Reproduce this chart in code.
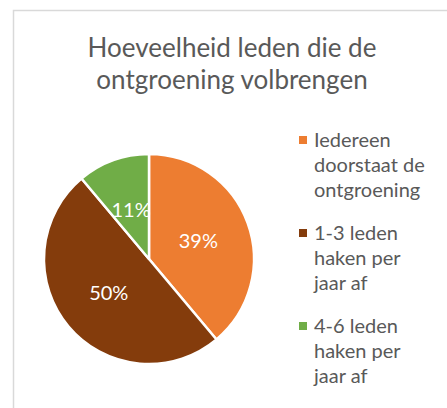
<!DOCTYPE html>
<html>
<head>
<meta charset="utf-8">
<script src="https://cdn.jsdelivr.net/npm/d3@7"></script>
<style>
	body { margin: 0; background: #fff; }
	svg { display: block; font-family: Lato, 'Open Sans', sans-serif; }
</style>
</head>
<body>
<div id="chart"></div>
<script>
var title = ['Hoeveelheid leden die de', 'ontgroening volbrengen'];
var categories = ['Iedereen doorstaat de ontgroening', '1-3 leden haken per jaar af', '4-6 leden haken per jaar af'];
var legendlines = [['Iedereen', 'doorstaat de', 'ontgroening'], ['1-3 leden', 'haken per', 'jaar af'], ['4-6 leden', 'haken per', 'jaar af']];
var values = [7, 9, 2];
var colors = ['#ED7D31', '#843C0C', '#70AD47'];

var width = 447;
var height = 408;
var cx = 149;
var cy = 259;
var radius = 105;
var textcolor = '#595959';

var svg = d3
	.select('#chart')
	.append('svg')
	.attr('width', width)
	.attr('height', height);

// CHART BORDER (only left and top visible in the crop)
svg
	.append('rect')
	.attr('x', 13.5)
	.attr('y', 10.5)
	.attr('width', width + 20)
	.attr('height', height + 20)
	.attr('fill', 'none')
	.attr('stroke', '#d9d9d9')
	.attr('stroke-width', 1.5);

// TITLE
svg
	.append('g')
	.selectAll('text')
	.data(title)
	.enter()
	.append('text')
	.attr('x', 232)
	.attr('y', function(d, i){ return 57 + i * 32; })
	.attr('text-anchor', 'middle')
	.attr('fill', textcolor)
	.style('font-size', '26px')
	.text(function(d){ return d; });

// PIE
var total = d3.sum(values);
var pie = d3
	.pie()
	.sort(null)
	.value(function(d){ return d; });

var arc = d3
	.arc()
	.innerRadius(0)
	.outerRadius(radius);

var slices = svg
	.append('g')
	.attr('transform', 'translate(' + cx + ',' + cy + ')')
	.selectAll('.slice')
	.data(pie(values))
	.enter()
	.append('g')
	.attr('class', 'slice');

slices
	.append('path')
	.attr('d', arc)
	.attr('fill', function(d, i){ return colors[i]; })
	.attr('stroke', '#fff')
	.attr('stroke-width', 2.5)
	.attr('stroke-linejoin', 'round');

var pct = d3.format('.0%');
slices
	.append('text')
	.attr('transform', function(d){ return 'translate(' + arc.centroid(d) + ')'; })
	.attr('dy', '0.35em')
	.attr('text-anchor', 'middle')
	.attr('fill', '#fff')
	.style('font-size', '20px')
	.text(function(d){ return pct(d.value / total); });

// LEGEND
var legend = svg
	.append('g')
	.selectAll('.legenditem')
	.data(categories)
	.enter()
	.append('g')
	.attr('class', 'legenditem')
	.attr('transform', function(d, i){ return 'translate(299,' + (147 + i * 93) + ')'; });

legend
	.append('rect')
	.attr('x', 0)
	.attr('y', -11)
	.attr('width', 8)
	.attr('height', 8)
	.attr('fill', function(d, i){ return colors[i]; });

legend
	.append('text')
	.attr('fill', textcolor)
	.style('font-size', '20px')
	.selectAll('tspan')
	.data(function(d, i){ return legendlines[i]; })
	.enter()
	.append('tspan')
	.attr('x', 15)
	.attr('y', function(d, j){ return j * 25; })
	.text(function(d){ return d; });
</script>
</body>
</html>
